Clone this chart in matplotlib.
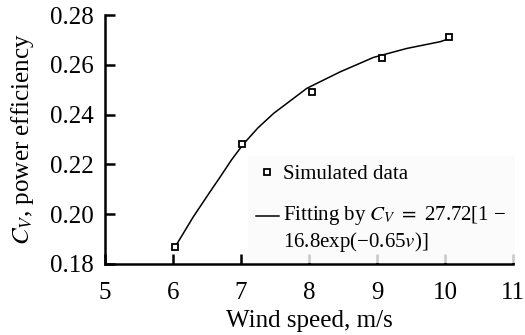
import matplotlib
matplotlib.use("Agg")
import numpy as np
import matplotlib.pyplot as plt
from matplotlib.legend_handler import HandlerLine2D

# simulated points
wind_sim = [6.03, 7.02, 8.04, 9.07, 10.06]
cv_sim = [0.1870, 0.2282, 0.2492, 0.2626, 0.2711]

# fitted curve
wind_fit = [6.03, 6.30, 6.54, 6.69, 6.86, 7.03, 7.25, 7.48, 7.97, 8.46, 8.95, 9.44, 9.93, 10.07]
cv_fit = [0.1868, 0.1990, 0.2088, 0.2148, 0.2218, 0.2280, 0.2347, 0.2405, 0.2506,
          0.2572, 0.2630, 0.2666, 0.2693, 0.2706]

xticks = [5, 6, 7, 8, 9, 10, 11]
yticks = [0.18, 0.20, 0.22, 0.24, 0.26, 0.28]


class TopLineHandler(HandlerLine2D):
    # put the line next to the first row of a two-row label
    def create_artists(self, legend, orig_handle, xdescent, ydescent,
                       width, height, fontsize, trans):
        arts = super().create_artists(legend, orig_handle, xdescent, ydescent,
                                      width, height, fontsize, trans)
        for a in arts:
            a.set_ydata(np.asarray(a.get_ydata()) + 0.6 * fontsize)
        return arts


plt.rcParams['font.family'] = ['Liberation Serif', 'DejaVu Serif']
plt.rcParams['mathtext.fontset'] = 'stix'

fig = plt.figure(figsize=(5.25, 3.35), dpi=100)
ax = fig.add_axes([0.2, 0.212, 0.777, 0.743])

fit_line, = ax.plot(wind_fit, cv_fit, color='black', lw=1.1,
                    label='Fitting by $C_V\\ =$ 27.72[1 \u2212\n16.8exp(\u22120.65$v$)]')
sim_pts, = ax.plot(wind_sim, cv_sim, ls='none', marker='s', ms=4.5, mfc='white',
                   mec='black', mew=1.3, label='Simulated data')

ax.set_xlim(5, 11)
ax.set_ylim(0.18, 0.28)
ax.set_xticks(xticks)
ax.set_yticks(yticks)
ax.set_xticklabels([str(t) for t in xticks])
ax.set_yticklabels(['%.2f' % t for t in yticks])

for s in ['top', 'right']:
    ax.spines[s].set_visible(False)
for s in ['left', 'bottom']:
    ax.spines[s].set_linewidth(1.8)
ax.tick_params(direction='in', length=7, width=1.8, labelsize=18)
ax.tick_params(axis='x', pad=13)
ax.tick_params(axis='y', pad=8)

ax.set_xlabel('Wind speed, m/s', fontsize=18, labelpad=4)
ax.set_ylabel('$C_V$, power efficiency', fontsize=18, labelpad=10)

leg = ax.legend([sim_pts, fit_line], [sim_pts.get_label(), fit_line.get_label()],
                handler_map={fit_line: TopLineHandler()},
                loc='lower left', bbox_to_anchor=(0.365, 0.03),
                fontsize=15, frameon=True, handlelength=1.1, handletextpad=0.2,
                borderaxespad=0, labelspacing=0.95, borderpad=0.1)
leg.get_frame().set_facecolor('#fafafa')
leg.get_frame().set_edgecolor('none')
leg.get_frame().set_boxstyle('square')

fig.savefig('out.png', dpi=100)
